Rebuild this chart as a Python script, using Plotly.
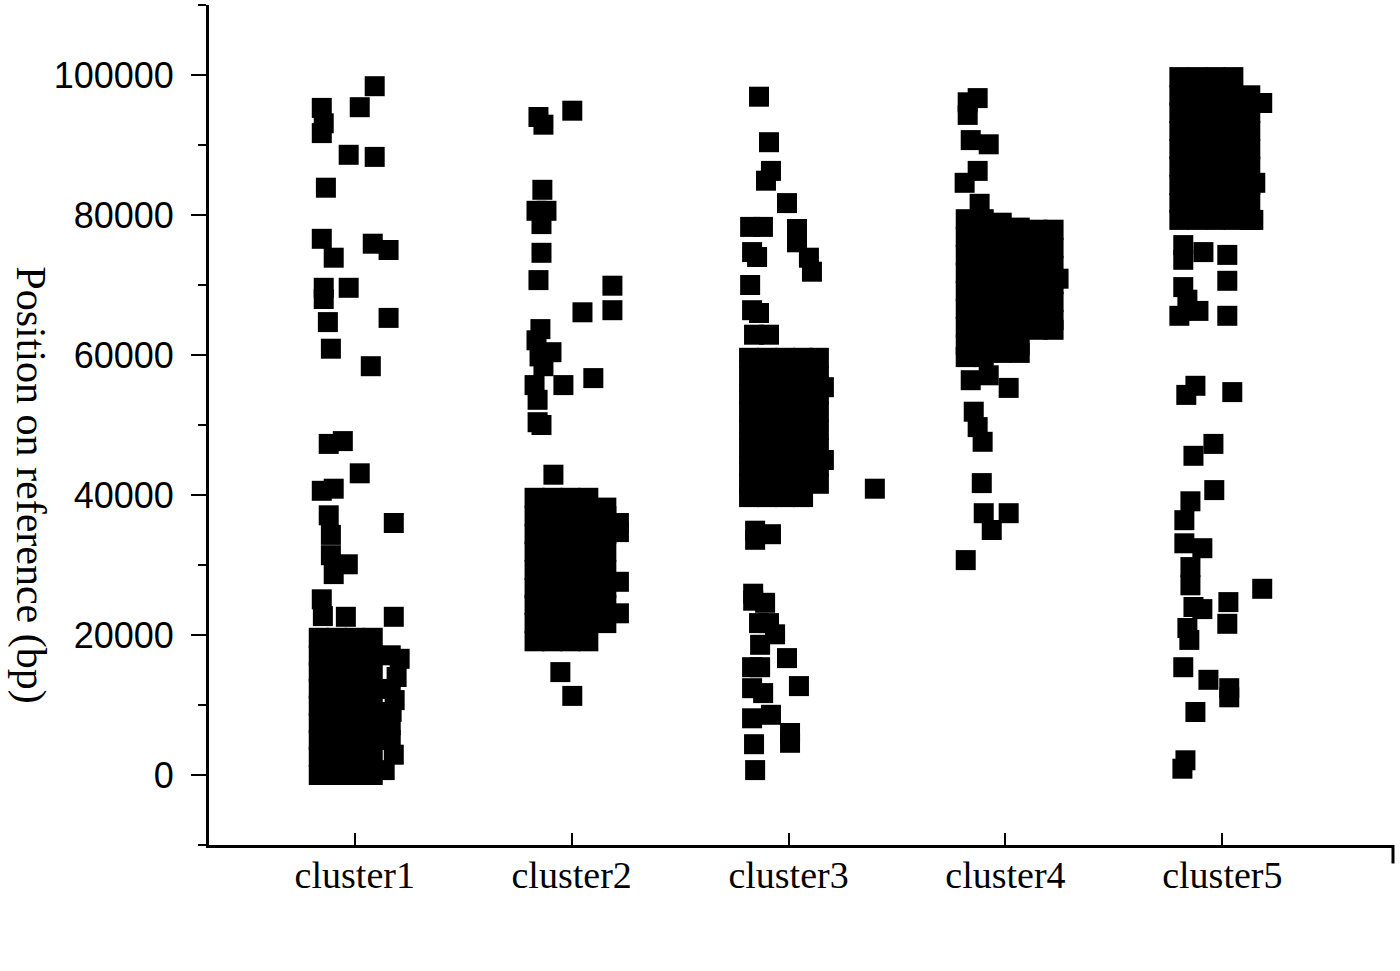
import plotly.graph_objects as go

categories = ["cluster1", "cluster2", "cluster3", "cluster4", "cluster5"]
cat_pos = [1, 2, 3, 4, 5]

# (jitter offset from category centre, position on reference in bp)
cluster1_points = [
    (0.092, 98400), (0.023, 95400), (-0.152, 95300), (-0.143, 93100), (-0.152, 91700),
    (-0.028, 88600), (0.092, 88300), (-0.133, 83900), (-0.152, 76600), (-0.097, 73900),
    (0.083, 75900), (0.156, 75000), (-0.143, 69600), (-0.143, 68000), (-0.028, 69600),
    (-0.124, 64700), (0.156, 65300), (-0.110, 60900), (0.074, 58400), (-0.120, 47300),
    (-0.055, 47700), (0.023, 43100), (-0.152, 40600), (-0.097, 40900), (-0.120, 37100),
    (-0.110, 34300), (0.180, 36000), (-0.110, 31400), (-0.097, 28700), (-0.032, 30100),
    (-0.152, 25100), (-0.147, 22700), (-0.041, 22600), (0.180, 22600),
    (-0.166, 19600), (-0.166, 17100), (-0.166, 14700), (-0.166, 12300), (-0.166, 9900),
    (-0.166, 7400), (-0.166, 5000), (-0.166, 2600), (-0.166, 0),
    (-0.083, 19600), (-0.083, 17100), (-0.083, 14700), (-0.083, 12300), (-0.083, 9900),
    (-0.083, 7400), (-0.083, 5000), (-0.083, 2600), (-0.083, 0),
    (0.0, 19600), (0.0, 17100), (0.0, 14700), (0.0, 12300), (0.0, 9900),
    (0.0, 7400), (0.0, 5000), (0.0, 2600), (0.0, 0),
    (0.083, 19600), (0.083, 17100), (0.083, 14700), (0.083, 12300), (0.083, 9900),
    (0.083, 7400), (0.083, 5000), (0.083, 2600), (0.083, 0),
    (0.166, 17100), (0.207, 16600), (0.193, 14000), (0.166, 12300), (0.184, 10700),
    (0.170, 9000), (0.166, 7100), (0.166, 5000), (0.180, 2900), (0.138, 700),
]

cluster2_points = [
    (-0.153, 94000), (-0.130, 92900), (0.003, 94900), (-0.135, 83600), (-0.162, 80600),
    (-0.116, 80600), (-0.139, 78700), (-0.139, 74600), (-0.153, 70700), (0.188, 69900),
    (0.188, 66400), (0.050, 66100), (-0.144, 63700), (-0.162, 62100), (-0.093, 60400),
    (-0.148, 59800), (-0.130, 58400), (-0.171, 55700), (-0.038, 55700), (0.100, 56700),
    (-0.157, 53600), (-0.157, 50400), (-0.139, 50000), (-0.084, 42900),
    (-0.171, 39600), (-0.171, 37000), (-0.171, 34400), (-0.171, 31900), (-0.171, 29300),
    (-0.171, 26700), (-0.171, 24300), (-0.171, 21700), (-0.171, 19100),
    (-0.089, 39600), (-0.089, 37000), (-0.089, 34400), (-0.089, 31900), (-0.089, 29300),
    (-0.089, 26700), (-0.089, 24300), (-0.089, 21700), (-0.089, 19100),
    (-0.006, 39600), (-0.006, 37000), (-0.006, 34400), (-0.006, 31900), (-0.006, 29300),
    (-0.006, 26700), (-0.006, 24300), (-0.006, 21700), (-0.006, 19100),
    (0.077, 39600), (0.077, 37000), (0.077, 34400), (0.077, 31900), (0.077, 29300),
    (0.077, 26700), (0.077, 24300), (0.077, 21700), (0.077, 19100),
    (0.160, 38200), (0.160, 37000), (0.160, 34400), (0.160, 31900), (0.160, 29300),
    (0.160, 26700), (0.160, 24300), (0.160, 21700),
    (0.218, 36000), (0.218, 34700), (0.218, 27600), (0.218, 23100),
    (-0.052, 14700), (0.003, 11300),
]

cluster3_points = [
    (-0.136, 96900), (-0.090, 90400), (-0.081, 86300), (-0.104, 84900), (-0.007, 81700),
    (-0.177, 78300), (-0.118, 78300), (-0.168, 74700), (-0.145, 74000), (0.039, 78000),
    (0.039, 76100), (0.094, 73900), (0.108, 71900), (-0.177, 70000), (-0.168, 66400),
    (-0.136, 66000), (-0.159, 62900), (-0.090, 62900),
    (-0.182, 59600), (-0.182, 57000), (-0.182, 54400), (-0.182, 51900), (-0.182, 49300),
    (-0.182, 46700), (-0.182, 44100), (-0.182, 41600), (-0.182, 39700),
    (-0.099, 59600), (-0.099, 57000), (-0.099, 54400), (-0.099, 51900), (-0.099, 49300),
    (-0.099, 46700), (-0.099, 44100), (-0.099, 41600), (-0.099, 39700),
    (-0.016, 59600), (-0.016, 57000), (-0.016, 54400), (-0.016, 51900), (-0.016, 49300),
    (-0.016, 46700), (-0.016, 44100), (-0.016, 41600), (-0.016, 39700),
    (0.067, 59600), (0.067, 57000), (0.067, 54400), (0.067, 51900), (0.067, 49300),
    (0.067, 46700), (0.067, 44100), (0.067, 41600), (0.067, 39700),
    (0.140, 59600), (0.140, 57000), (0.140, 54400), (0.140, 51900), (0.140, 49300),
    (0.140, 46700), (0.140, 44100), (0.140, 41600),
    (0.163, 55400), (0.163, 45000), (0.398, 40900),
    (-0.154, 34900), (-0.154, 33600), (-0.081, 34400), (-0.163, 25900), (-0.163, 24900),
    (-0.108, 24600), (-0.136, 21700), (-0.090, 21700), (-0.131, 18600), (-0.062, 20100),
    (-0.007, 16700), (-0.168, 15400), (-0.131, 15400), (-0.168, 12400), (-0.117, 11700),
    (0.048, 12700), (-0.168, 8100), (-0.081, 8600), (-0.159, 4400), (0.007, 6000),
    (0.007, 4600), (-0.154, 700),
]

cluster4_points = [
    (-0.174, 96100), (-0.128, 96700), (-0.174, 94300), (-0.160, 90700), (-0.077, 90100),
    (-0.188, 84600), (-0.128, 86300), (-0.119, 81600),
    (-0.183, 79400), (-0.183, 76900), (-0.183, 74300), (-0.183, 71700), (-0.183, 69100),
    (-0.183, 66600), (-0.183, 64000), (-0.183, 61400), (-0.183, 59700),
    (-0.100, 79400), (-0.100, 76900), (-0.100, 74300), (-0.100, 71700), (-0.100, 69100),
    (-0.100, 66600), (-0.100, 64000), (-0.100, 61400), (-0.100, 59700),
    (-0.017, 78900), (-0.017, 76900), (-0.017, 74300), (-0.017, 71700), (-0.017, 69100),
    (-0.017, 66600), (-0.017, 64000), (-0.017, 61400), (-0.017, 60300),
    (0.066, 78200), (0.066, 76900), (0.066, 74300), (0.066, 71700), (0.066, 69100),
    (0.066, 66600), (0.066, 64000), (0.066, 61400), (0.066, 60300),
    (0.148, 77900), (0.148, 75300), (0.148, 72700), (0.148, 70100), (0.148, 67600),
    (0.148, 65000), (0.148, 63600),
    (0.222, 77900), (0.222, 75300), (0.222, 72700), (0.222, 70100), (0.222, 67600),
    (0.222, 65000), (0.222, 63600), (0.245, 70900),
    (-0.160, 56400), (-0.077, 57100), (0.015, 55300), (-0.146, 51900), (-0.128, 49700),
    (-0.105, 47600), (-0.109, 41700), (-0.100, 37400), (0.015, 37400), (-0.063, 35000),
    (-0.183, 30700),
]

cluster5_points = [
    (-0.198, 99700), (-0.198, 97100), (-0.198, 94600), (-0.198, 92000), (-0.198, 89400),
    (-0.198, 86900), (-0.198, 84300), (-0.198, 81700), (-0.198, 79300),
    (-0.115, 99700), (-0.115, 97100), (-0.115, 94600), (-0.115, 92000), (-0.115, 89400),
    (-0.115, 86900), (-0.115, 84300), (-0.115, 81700), (-0.115, 79300),
    (-0.032, 99700), (-0.032, 97100), (-0.032, 94600), (-0.032, 92000), (-0.032, 89400),
    (-0.032, 86900), (-0.032, 84300), (-0.032, 81700), (-0.032, 79300),
    (0.051, 99700), (0.051, 97100), (0.051, 94600), (0.051, 92000), (0.051, 89400),
    (0.051, 86900), (0.051, 84300), (0.051, 81700), (0.051, 79300),
    (0.129, 97100), (0.129, 94600), (0.129, 92000), (0.129, 89400), (0.129, 86900),
    (0.129, 84300), (0.129, 81700), (0.129, 79300),
    (0.184, 96000), (0.152, 84600), (0.143, 79300),
    (-0.180, 75700), (-0.087, 74700), (-0.180, 73600), (0.023, 74300), (0.023, 70600),
    (-0.180, 69700), (-0.161, 67900), (-0.110, 66300), (-0.198, 65600), (0.023, 65600),
    (-0.124, 55600), (-0.166, 54300), (0.046, 54700),
    (-0.041, 47300), (-0.133, 45600), (-0.037, 40700), (-0.147, 39100), (-0.175, 36400),
    (-0.175, 33100), (-0.092, 32400), (-0.147, 29700), (-0.147, 27100), (-0.133, 24000),
    (-0.092, 23700), (0.028, 24700), (0.023, 21600), (0.184, 26600), (-0.161, 21000),
    (-0.152, 19300), (-0.180, 15400), (-0.064, 13600), (0.032, 12400), (0.032, 11100),
    (-0.124, 9000), (-0.170, 2100), (-0.184, 900),
]

all_clusters = [cluster1_points, cluster2_points, cluster3_points, cluster4_points, cluster5_points]

fig = go.Figure()
for pos, pts in zip(cat_pos, all_clusters):
    fig.add_trace(go.Scatter(
        x=[pos + p[0] for p in pts],
        y=[p[1] for p in pts],
        mode="markers",
        marker=dict(symbol="square", size=20, color="black", line=dict(width=0)),
        showlegend=False,
        hoverinfo="skip",
    ))

fig.update_layout(
    width=1400, height=971,
    margin=dict(l=209, r=7, t=5, b=126),
    paper_bgcolor="white", plot_bgcolor="white",
    xaxis=dict(
        range=[0.328, 5.787],
        tickmode="array", tickvals=cat_pos, ticktext=categories,
        ticks="inside", ticklen=12, tickwidth=2, tickcolor="black",
        showline=True, linewidth=3, linecolor="black",
        showgrid=False, zeroline=False,
        ticklabelstandoff=-6,
        tickfont=dict(family="Liberation Serif, Times New Roman, serif", size=38, color="black"),
    ),
    yaxis=dict(
        range=[-10000, 110000],
        tickmode="linear", tick0=0, dtick=20000, tickformat="d",
        ticks="outside", ticklen=15, tickwidth=2, tickcolor="black",
        minor=dict(tick0=0, dtick=10000, ticks="outside", ticklen=8, tickwidth=2, tickcolor="black"),
        showline=True, linewidth=3, linecolor="black",
        showgrid=False, zeroline=False,
        ticklabelstandoff=10,
        tickfont=dict(family="Liberation Sans, Arial, sans-serif", size=36, color="black"),
    ),
    shapes=[dict(type="line", xref="paper", yref="paper", x0=1, x1=1, y0=0, y1=-0.022,
                 line=dict(color="black", width=3))],
    annotations=[dict(
        text="Position on reference (bp)", textangle=90,
        xref="paper", yref="paper", x=-0.1515, y=0.4286,
        xanchor="center", yanchor="middle", showarrow=False,
        font=dict(family="Liberation Serif, Times New Roman, serif", size=42, color="black"),
    )],
)

fig.write_html("out.html", config={"displayModeBar": False},
               post_script="document.body.style.margin='0';")
